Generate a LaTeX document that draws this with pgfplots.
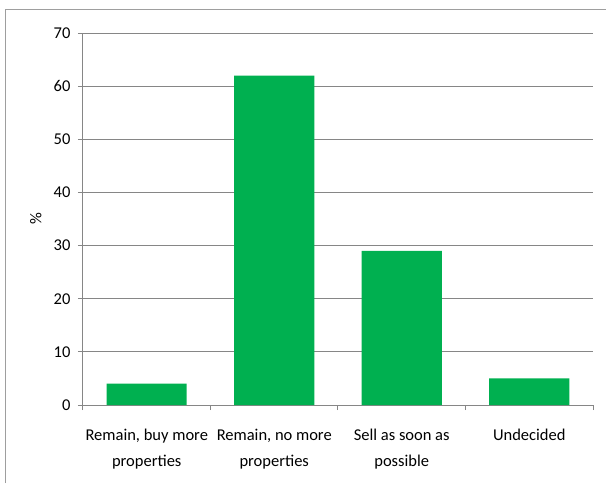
\documentclass[border=0pt]{standalone}
\usepackage{pgfplots}
\pgfplotsset{compat=1.18}
\usepackage{fontspec}
\setmainfont{Carlito}
\definecolor{bargreen}{HTML}{00B050}
\definecolor{axgray}{HTML}{868686}
\begin{document}
\begin{tikzpicture}[x=1pt,y=1pt]
\path[use as bounding box] (0,0) rectangle (606,483);
\draw[color=axgray!80, line width=1pt] (5,0) -- (5,473) -- (606,473);
\begin{axis}[
  at={(83pt,78pt)}, anchor=south west,
  scale only axis, width=510pt, height=372pt,
  xmin=-0.5, xmax=3.5, ymin=0, ymax=70,
  ytick={0,10,...,70},
  xtick={0,1,2,3},
  xticklabels={{Remain, buy more\\properties},{Remain, no more\\properties},{Sell as soon as\\possible},{Undecided}},
  minor xtick={-0.5,0.5,1.5,2.5,3.5},
  major x tick style={draw=none},
  tick align=outside,
  major tick length=5pt, minor tick length=5pt,
  tick style={color=axgray, line width=1pt},
  axis x line*=bottom, axis y line*=left,
  axis line style={color=axgray, line width=1pt, -},
  ymajorgrids, grid style={color=axgray, line width=1pt},
  ylabel={\%},
  ylabel style={at={(axis description cs:0,0.5)}, anchor=south, yshift=38pt},
  xticklabel style={align=center, font=\fontsize{16.5}{26}\selectfont, yshift=-16pt, anchor=north},
  yticklabel style={font=\fontsize{16.5}{18}\selectfont, xshift=-4pt},
  label style={font=\fontsize{16.5}{18}\selectfont},
  /pgf/number format/assume math mode=true,
  ybar, bar width=80pt,
  clip=false,
]
\addplot[fill=bargreen, draw=none] coordinates {(0,4) (1,62) (2,29) (3,5)};
\end{axis}
\end{tikzpicture}
\end{document}
